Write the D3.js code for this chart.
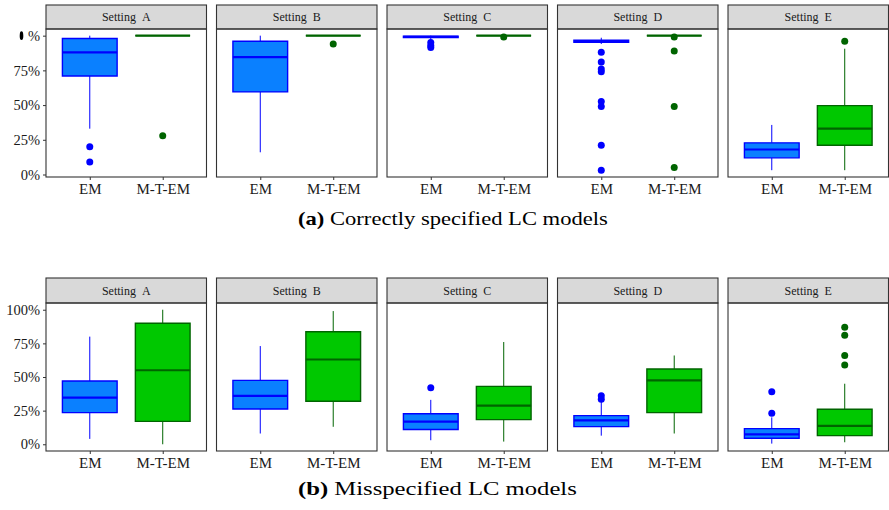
<!DOCTYPE html>
<html>
<head>
<meta charset="utf-8">
<script src="https://cdn.jsdelivr.net/npm/d3@7"></script>
<style>
  body { margin: 0; background: #fff; }
</style>
</head>
<body>
<div id="chart"></div>
<script>
// box stats per setting: [whisker low, q1, median, q3, whisker high]
var settings = ["A", "B", "C", "D", "E"];
var methods = ["EM", "M-T-EM"];

// (a) correctly specified
var correctEM = [
  [0.33, 0.71, 0.88, 0.98, 1.00],
  [0.16, 0.595, 0.845, 0.96, 1.00],
  [0.97, 0.986, 0.992, 0.997, 1.00],
  [0.94, 0.953, 0.96, 0.967, 0.985],
  [0.031, 0.12, 0.18, 0.228, 0.357]
];
var correctMTEM = [
  [1.00, 1.00, 1.00, 1.00, 1.00],
  [1.00, 1.00, 1.00, 1.00, 1.00],
  [1.00, 1.00, 1.00, 1.00, 1.00],
  [1.00, 1.00, 1.00, 1.00, 1.00],
  [0.031, 0.211, 0.331, 0.496, 0.906]
];
var correctEMOut = [
  [0.20, 0.09],
  [],
  [0.95, 0.93, 0.915],
  [0.88, 0.81, 0.76, 0.74, 0.525, 0.49, 0.21, 0.03],
  []
];
var correctMTEMOut = [
  [0.28],
  [0.94],
  [0.99],
  [0.99, 0.89, 0.49, 0.05],
  [0.96]
];

// (b) misspecified
var misEM = [
  [0.04, 0.235, 0.346, 0.47, 0.80],
  [0.08, 0.262, 0.36, 0.475, 0.73],
  [0.03, 0.11, 0.168, 0.227, 0.33],
  [0.064, 0.131, 0.178, 0.213, 0.32],
  [0.005, 0.045, 0.074, 0.116, 0.20]
];
var misMTEM = [
  [0.00, 0.17, 0.55, 0.90, 1.00],
  [0.13, 0.32, 0.63, 0.836, 0.99],
  [0.02, 0.183, 0.287, 0.43, 0.76],
  [0.08, 0.235, 0.475, 0.56, 0.66],
  [0.015, 0.064, 0.136, 0.26, 0.45]
];
var misEMOut = [
  [], [], [0.42], [0.36, 0.335], [0.39, 0.23]
];
var misMTEMOut = [
  [], [], [], [], [0.87, 0.81, 0.66, 0.59]
];

var tickValues = [0, 0.25, 0.5, 0.75, 1];
var tickLabels = ["0%", "25%", "50%", "75%", "100%"];
var captions = [["(a)", "Correctly specified LC models"], ["(b)", "Misspecified LC models"]];

var W = 889, H = 510;
var FONT = "Liberation Serif";
var fill = { "EM": "#0A80FF", "M-T-EM": "#00C800" };
var stroke = { "EM": "#0000FF", "M-T-EM": "#006400" };

var svg = d3.select("#chart").append("svg")
  .attr("width", W).attr("height", H);

var panelX = d3.scaleBand().domain(settings).range([46, 888.5]).paddingInner(0.0587);
var xPos = d3.scalePoint().domain(methods).range([0, panelX.bandwidth()]).padding(0.6);
var boxW = xPos.step() * 0.75;

var rows = [
  { strip: 5, top: 29, bottom: 177, domain: [-0.018, 1.048], em: correctEM, mt: correctMTEM,
    emOut: correctEMOut, mtOut: correctMTEMOut, cap: captions[0], capY: 224.5, capW: 310, blob: true },
  { strip: 278, top: 303, bottom: 451, domain: [-0.05, 1.05], em: misEM, mt: misMTEM,
    emOut: misEMOut, mtOut: misMTEMOut, cap: captions[1], capY: 494.5, capW: 279, blob: false }
];

rows.forEach(function(r) {
  var y = d3.scaleLinear().domain(r.domain).range([r.bottom, r.top]);

  settings.forEach(function(s, si) {
    var g = svg.append("g").attr("transform", "translate(" + panelX(s) + ",0)");
    var pw = panelX.bandwidth();

    // strip
    g.append("rect").attr("x", 0).attr("y", r.strip).attr("width", pw).attr("height", r.top - r.strip)
      .attr("fill", "#D9D9D9").attr("stroke", "#333").attr("stroke-width", 1.1);
    g.append("text").attr("x", pw / 2).attr("y", (r.strip + r.top) / 2 + 4)
      .attr("text-anchor", "middle").attr("font-size", 12).attr("fill", "#1a1a1a")
      .style("font-family", FONT)
      .text("Setting\u00A0\u00A0" + s);

    var sets = [
      { m: "EM", st: r.em[si], out: r.emOut[si] },
      { m: "M-T-EM", st: r.mt[si], out: r.mtOut[si] }
    ];
    sets.forEach(function(b) {
      var cx = xPos(b.m), st = b.st;
      var x0 = cx - boxW / 2, x1 = cx + boxW / 2;
      // whiskers
      g.append("line").attr("x1", cx).attr("x2", cx).attr("y1", y(st[3])).attr("y2", y(st[4]))
        .attr("stroke", stroke[b.m]).attr("stroke-width", 1);
      g.append("line").attr("x1", cx).attr("x2", cx).attr("y1", y(st[0])).attr("y2", y(st[1]))
        .attr("stroke", stroke[b.m]).attr("stroke-width", 1);
      // box
      g.append("path")
        .attr("d", "M" + x0 + "," + y(st[3]) + "H" + x1 + "V" + y(st[1]) + "H" + x0 + "Z")
        .attr("fill", fill[b.m]).attr("stroke", stroke[b.m]).attr("stroke-width", 1.4);
      // median
      g.append("line").attr("x1", x0).attr("x2", x1).attr("y1", y(st[2])).attr("y2", y(st[2]))
        .attr("stroke", stroke[b.m]).attr("stroke-width", 2.2);
      // outliers
      g.selectAll(null).data(b.out).enter().append("circle")
        .attr("cx", cx).attr("cy", function(d) { return y(d); }).attr("r", 3.5)
        .attr("fill", stroke[b.m]);
    });

    g.append("rect").attr("x", 0).attr("y", r.top).attr("width", pw).attr("height", r.bottom - r.top)
      .attr("fill", "none").attr("stroke", "#333").attr("stroke-width", 1.1);

    // x axis
    var xa = g.append("g").attr("transform", "translate(0," + r.bottom + ")")
      .call(d3.axisBottom(xPos).tickSize(3).tickPadding(3));
    xa.select(".domain").remove();
    xa.selectAll("line").attr("stroke", "#333");
    xa.selectAll("text").attr("font-size", 15).attr("fill", "#1a1a1a")
      .style("font-family", FONT);

    // y axis on first panel
    if (si === 0) {
      var ya = g.append("g").call(d3.axisLeft(y).tickValues(tickValues)
        .tickFormat(function(d, i) { return (r.blob && i === 4) ? "%" : tickLabels[i]; })
        .tickSize(3).tickPadding(3));
      ya.select(".domain").remove();
      ya.selectAll("line").attr("stroke", "#333");
      ya.selectAll("text").attr("font-size", 14.5).attr("fill", "#1a1a1a")
        .style("font-family", FONT);
      if (r.blob) {
        // the "10" of the 100% label is printed as a black blob in the figure
        g.append("ellipse").attr("cx", -24.5).attr("cy", y(1)).attr("rx", 1.8).attr("ry", 4.3)
          .attr("fill", "#000");
      }
    }
  });

  // caption (Computer Modern is wider than Times, so stretch horizontally to the figure's width)
  var cap = svg.append("text")
    .attr("font-size", 18.5).attr("fill", "#000").style("font-family", FONT);
  cap.append("tspan").attr("font-weight", "bold").text(r.cap[0]);
  cap.append("tspan").text(" " + r.cap[1]);
  var sx = r.capW / cap.node().getComputedTextLength();
  cap.attr("transform", "translate(298," + r.capY + ") scale(" + sx + ",1)");
});
</script>
</body>
</html>
